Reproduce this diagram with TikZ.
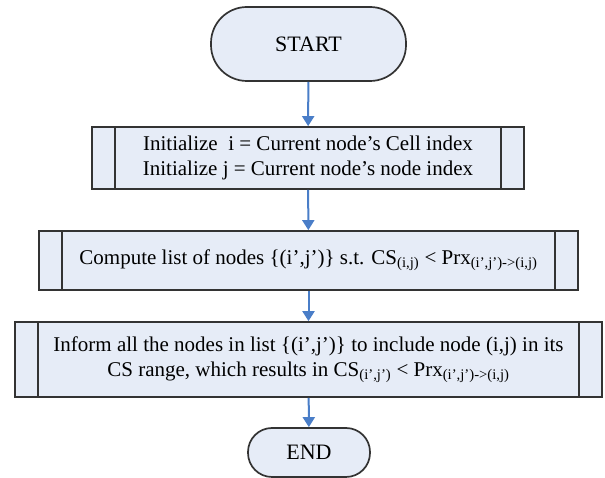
\documentclass[tikz,border=0pt]{standalone}
\usepackage{fontspec}
\setmainfont{Liberation Serif}
\usetikzlibrary{arrows.meta,positioning}

\definecolor{boxfill}{HTML}{E6ECF7}
\definecolor{flowblue}{HTML}{4A7EC8}

\begin{document}
\begin{tikzpicture}[x=1pt, y=1pt,
  termbox/.style={draw=black!80, line width=1.7pt, fill=boxfill, rounded corners=24pt,
    inner sep=0pt, font=\fontsize{22}{26}\selectfont},
  procbox/.style={draw=black!80, line width=1.7pt, fill=boxfill, inner sep=0pt,
    align=center, font=\fontsize{21}{25.5}\selectfont},
  flowarrow/.style={draw=flowblue, line width=2pt, -{Triangle[length=10pt, width=12pt]}}]
\useasboundingbox (0,0) rectangle (605,478);
% terminals and process boxes
\node[termbox, minimum width=195, minimum height=74, rounded corners=36pt] (start) at (308.5,434) {START};
\node[procbox, minimum width=432, minimum height=62] (init) at (308,320)
  {Initialize\ \ i = Current node’s Cell index\\Initialize j = Current node’s node index};
\node[procbox, minimum width=539, minimum height=59] (compute) at (308.5,217.5)
  {Compute list of nodes \{(i’,j’)\} s.t. CS\textsubscript{(i,j)} < Prx\textsubscript{(i’,j’)->(i,j)}};
\node[procbox, minimum width=587, minimum height=75] (inform) at (308.5,118.5)
  {Inform all the nodes in list \{(i’,j’)\} to include node (i,j) in its\\CS range, which results in CS\textsubscript{(i’,j’)} < Prx\textsubscript{(i’,j’)->(i,j)}};
\node[termbox, minimum width=122, minimum height=49] (end) at (309,25.5) {END};
% side bars of the process boxes
\foreach \boxname in {init, compute, inform} {
  \draw[black!80, line width=1.7pt] ([xshift=24]\boxname.north west) -- ([xshift=24]\boxname.south west);
  \draw[black!80, line width=1.7pt] ([xshift=-24]\boxname.north east) -- ([xshift=-24]\boxname.south east);
}
% connectors
\draw[flowarrow] (start) -- (init);
\draw[flowarrow] (init) -- (compute);
\draw[flowarrow] (compute) -- (inform);
\draw[flowarrow] (inform) -- (end);
\end{tikzpicture}
\end{document}
